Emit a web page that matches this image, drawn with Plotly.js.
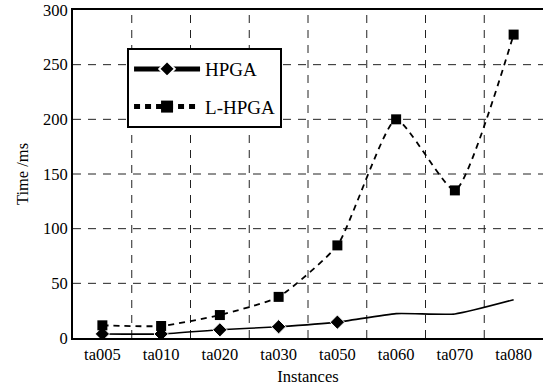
<!DOCTYPE html>
<html>
<head>
<meta charset="utf-8">
<script src="https://cdn.plot.ly/plotly-3.0.1.min.js"></script>
<style>html,body{margin:0;padding:0;background:#fff;}#chart{width:543px;height:388px;}</style>
</head>
<body>
<div id="chart"></div>
<script>
const instances = ["ta005","ta010","ta020","ta030","ta050","ta060","ta070","ta080"];
const hpga = [3.7, 3.7, 7.5, 10.3, 14.5, 22.3, 22, 35];
const lhpga = [11.6, 11, 21, 37.6, 84.7, 200, 135, 277.5];
const hpgaMarkerShown = [1,1,1,1,1,0,0,0];
const yTicks = [0,50,100,150,200,250,300];

const font = "Times New Roman, Liberation Serif, serif";

const traces = [
  {
    x: instances, y: hpga, name: "HPGA", type: "scatter", mode: "lines+markers",
    legendgroup: "a",
    line: {color: "#000", width: 1.6, shape: "spline", smoothing: 0.5},
    marker: {symbol: "diamond", color: "#000", opacity: 1, size: hpgaMarkerShown.map(v => v ? 11 : 0)}
  },
  {
    x: instances, y: lhpga, name: "L-HPGA", type: "scatter", mode: "lines+markers",
    legendgroup: "b",
    line: {color: "#000", width: 1.8, dash: "6px,5px", shape: "spline", smoothing: 0.5},
    marker: {symbol: "square", color: "#000", size: 10}
  }
];

// dashed grid drawn as shapes: category boundaries and interior y ticks
const gridLine = {color: "#222222", width: 1, dash: "8px,7px"};
const gridShapes = [];
for (let i = 0; i < instances.length - 1; i++) {
  gridShapes.push({type: "line", layer: "below", xref: "x", yref: "paper",
    x0: i + 0.5, x1: i + 0.5, y0: 0, y1: 1, line: gridLine});
}
yTicks.slice(1, -1).forEach(v => {
  gridShapes.push({type: "line", layer: "below", xref: "paper", yref: "y",
    x0: 0, x1: 1, y0: v, y1: v, line: gridLine});
});

const layout = {
  width: 543, height: 388,
  margin: {l: 73, r: 0, t: 10, b: 50},
  paper_bgcolor: "#fff", plot_bgcolor: "#fff",
  font: {family: font, color: "#000", size: 16.5},
  showlegend: true,
  legend: {
    x: 0.115, y: 0.884, xanchor: "left", yanchor: "top",
    bgcolor: "#fff", bordercolor: "#000", borderwidth: 2,
    font: {family: font, size: 19, color: "#000"},
    itemsizing: "constant", traceorder: "grouped", tracegroupgap: 10,
    itemwidth: 66
  },
  shapes: gridShapes,
  xaxis: {
    type: "category", range: [-0.5, 7.5],
    showgrid: false,
    showline: true, linecolor: "#000", linewidth: 2, mirror: true,
    ticks: "", tickfont: {family: font, size: 16.5},
    title: {text: "Instances", font: {family: font, size: 16.5}, standoff: 8},
    fixedrange: true
  },
  yaxis: {
    range: [yTicks[0], yTicks[yTicks.length - 1]], tickvals: yTicks,
    ticktext: yTicks.map(String),
    showgrid: false,
    showline: true, linecolor: "#000", linewidth: 2, mirror: true,
    ticks: "", zeroline: false, tickfont: {family: font, size: 16.5},
    title: {text: "Time /ms", font: {family: font, size: 16.5}, standoff: 10},
    fixedrange: true
  }
};

Plotly.newPlot("chart", traces, layout, {displayModeBar: false});
</script>
</body>
</html>
